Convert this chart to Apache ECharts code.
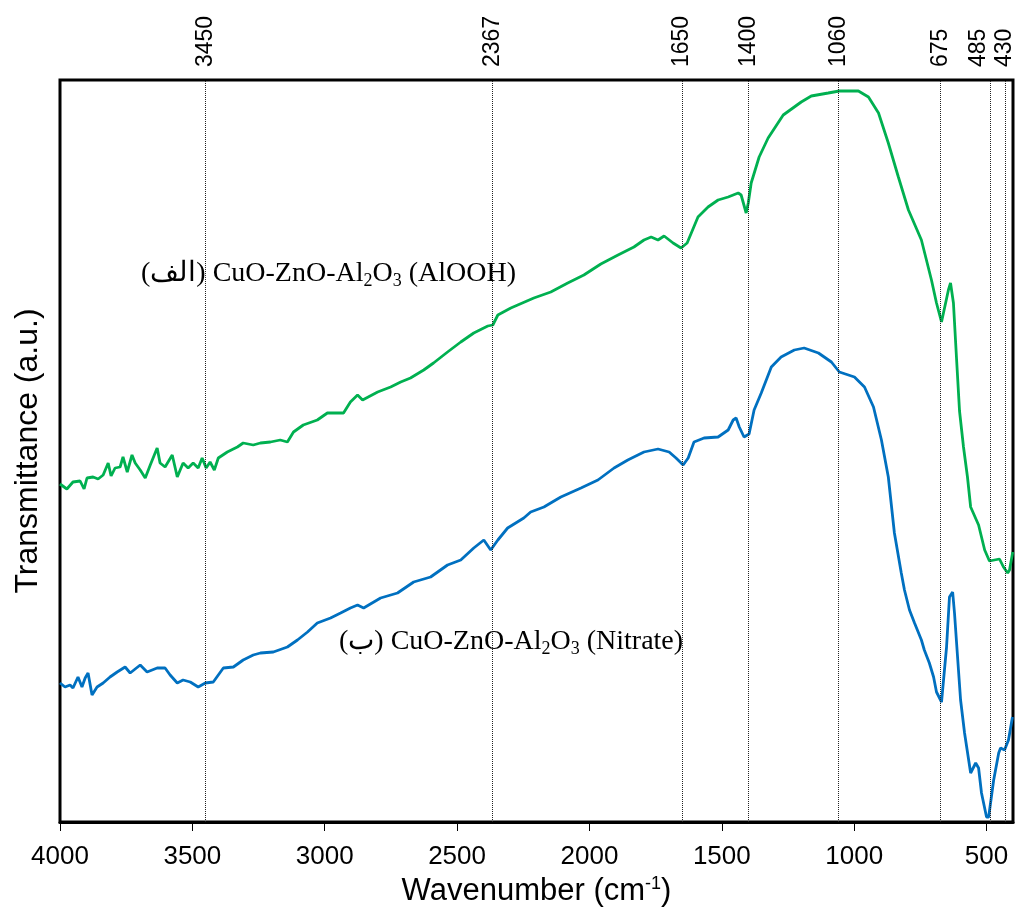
<!DOCTYPE html>
<html>
<head>
<meta charset="utf-8">
<script src="https://cdn.jsdelivr.net/npm/echarts@6/dist/echarts.min.js"></script>
<style>
html, body { margin: 0; padding: 0; background: #fff; }
#ftir { width: 1016px; height: 909px; }
</style>
</head>
<body>
<div id="ftir"></div>
<script>
// FTIR spectra (wavenumber cm-1, transmittance a.u.)

var alooh_wn = [4000,3974,3951,3924,3909,3898,3875,3856,3837,3818,3807,3792,3773,3762,3746,3728,3716,3697,3678,3659,
    3633,3622,3603,3576,3557,3535,3516,3497,3478,3463,3448,3433,3417,3402,3368,3330,3308,3270,3243,3205,
    3168,3141,3118,3081,3028,2990,2929,2903,2876,2857,2800,2751,2713,2676,2626,2589,2536,2486,2437,2384,
    2365,2346,2297,2210,2146,2082,2021,1957,1892,1832,1794,1767,1741,1718,1684,1654,1631,1590,1552,1514,
    1476,1438,1427,1408,1400,1389,1359,1325,1268,1200,1162,1098,1056,984,946,908,871,833,795,746,
    708,689,670,644,636,625,613,602,587,572,560,530,507,489,451,436,420,413,401];
var alooh_t = [33.8,33.3,34.0,34.1,33.3,34.4,34.5,34.3,34.7,35.9,34.6,35.4,35.5,36.5,35.0,36.7,35.9,35.2,34.4,35.7,
    37.4,35.9,35.5,36.7,34.5,35.9,35.4,35.9,35.4,36.4,35.4,36.0,35.2,36.4,37.0,37.5,37.9,37.7,37.9,38.0,
    38.2,38.0,39.0,39.7,40.2,40.9,40.9,42.0,42.7,42.2,43.0,43.5,44.0,44.4,45.2,45.9,47.0,48.0,48.9,49.6,
    49.7,50.7,51.4,52.4,53.0,53.9,54.7,55.8,56.7,57.5,58.2,58.5,58.2,58.6,57.9,57.4,57.9,60.5,61.5,62.2,
    62.5,62.9,62.7,60.9,61.9,63.9,66.5,68.4,70.7,72.0,72.6,72.9,73.1,73.1,72.5,70.9,67.9,64.5,61.2,58.2,
    54.2,51.9,50.0,53.2,53.9,51.9,46.2,41.1,37.5,34.5,31.5,29.7,27.2,26.1,26.3,25.5,24.9,25.2,27.0];

var nitrate_wn = [4000,3981,3962,3951,3932,3917,3905,3894,3879,3860,3837,3811,3784,3754,3735,3697,3671,3633,3603,3584,
    3557,3535,3508,3478,3451,3421,3383,3345,3308,3270,3243,3194,3141,3103,3065,3028,2978,2940,2903,2876,
    2853,2789,2725,2664,2600,2536,2486,2437,2399,2373,2346,2309,2248,2222,2172,2108,2032,1968,1907,1855,
    1817,1794,1741,1699,1673,1646,1627,1605,1567,1514,1476,1457,1446,1434,1416,1397,1378,1351,1313,1276,
    1226,1189,1135,1086,1056,999,961,927,897,871,848,822,810,791,772,746,735,716,700,689,
    670,651,640,628,621,606,598,583,560,541,530,519,500,492,473,454,447,432,417,402];
var nitrate_t = [13.9,13.5,13.7,13.4,14.5,13.5,14.4,14.9,12.7,13.5,13.9,14.5,15.0,15.5,14.9,15.7,15.0,15.4,15.4,14.7,
    13.9,14.2,14.0,13.5,13.9,14.0,15.4,15.5,16.2,16.7,16.9,17.0,17.5,18.2,19.0,19.9,20.4,20.9,21.4,21.7,
    21.4,22.4,22.9,24.0,24.5,25.7,26.2,27.4,28.2,27.2,28.2,29.4,30.4,31.0,31.5,32.5,33.4,34.2,35.4,36.2,
    36.7,37.0,37.3,37.0,36.4,35.7,36.4,38.0,38.4,38.5,39.2,40.2,40.4,39.5,38.5,38.8,41.2,42.9,45.5,46.5,
    47.2,47.4,46.9,46.0,45.0,44.5,43.5,41.5,38.2,34.5,28.9,24.9,23.2,21.2,19.9,18.2,17.2,15.9,14.5,13.0,
    12.0,17.5,22.5,23.0,20.9,15.2,12.2,8.9,4.9,5.9,5.4,2.9,0.5,0.5,4.2,6.9,7.4,7.2,8.2,10.5];

var peak_lines = [3450, 2367, 1650, 1400, 1060, 675, 485, 430];
var x_ticks = [4000, 3500, 3000, 2500, 2000, 1500, 1000, 500];

function pairs(xs, ys) {
    var out = [];
    for (var i = 0; i < xs.length; i++) out.push([xs[i], ys[i]]);
    return out;
}
function plain(v) { return String(v); }

var myChart = echarts.init(document.getElementById('ftir'));

var sansFont = '"Liberation Sans", Arial, sans-serif';
var serifFont = '"Liberation Serif", "Times New Roman", serif';
var subStyle = { fontSize: 18, fontFamily: serifFont, lineHeight: 14, verticalAlign: 'bottom', fill: '#000' };

// top axis for the peak labels; 485 and 430 sit too close, so they get their own axes
function peakAxis(values, vAlign) {
    return {
        type: 'value', position: 'top',
        min: 400, max: 4000, inverse: true,
        axisLine: { show: false },
        axisTick: { show: false },
        axisLabel: {
            customValues: values, formatter: plain, rotate: -90, margin: 13,
            hideOverlap: false, verticalAlign: vAlign || 'middle',
            fontFamily: sansFont, fontSize: 23, color: '#000'
        },
        splitLine: { show: false }
    };
}

var option = {
    animation: false,
    backgroundColor: '#fff',
    grid: {
        left: 60, right: 3, top: 80, bottom: 87,
        outerBoundsMode: 'none',
        show: true, borderColor: '#000', borderWidth: 3
    },
    xAxis: [
        {
            type: 'value', position: 'bottom',
            min: 400, max: 4000, inverse: true,
            name: 'Wavenumber (cm{sup|-1})',
            nameLocation: 'middle', nameGap: 44,
            nameTextStyle: {
                fontFamily: sansFont, fontSize: 31, color: '#000',
                rich: { sup: { fontFamily: sansFont, fontSize: 18, verticalAlign: 'top', lineHeight: 34, color: '#000' } }
            },
            axisLine: { show: true, lineStyle: { color: '#000', width: 3 } },
            axisTick: { show: true, customValues: x_ticks, length: 9, lineStyle: { color: '#000', width: 1 } },
            axisLabel: { customValues: x_ticks, formatter: plain, margin: 22, fontFamily: sansFont, fontSize: 26, color: '#000' },
            splitLine: { show: false }
        },
        peakAxis([3450, 2367, 1650, 1400, 1060, 675]),
        peakAxis([485], 'bottom'),
        peakAxis([430])
    ],
    yAxis: {
        type: 'value', min: 0, max: 74.2,
        name: 'Transmittance (a.u.)',
        nameLocation: 'middle', nameGap: 16,
        nameTextStyle: { fontFamily: sansFont, fontSize: 32, color: '#000' },
        axisLine: { show: false },
        axisTick: { show: false },
        axisLabel: { show: false },
        splitLine: { show: false }
    },
    graphic: [
        {
            type: 'text', left: 141, top: 258, z: 100,
            style: {
                text: '(الف) CuO-ZnO-Al{sub|2}O{sub|3} (AlOOH)',
                font: '28px ' + serifFont, fill: '#000', lineHeight: 32,
                rich: { sub: subStyle }
            }
        },
        {
            type: 'text', left: 339, top: 626, z: 100,
            style: {
                text: '(ب) CuO-ZnO-Al{sub|2}O{sub|3} (Nitrate)',
                font: '28px ' + serifFont, fill: '#000', lineHeight: 32,
                rich: { sub: subStyle }
            }
        }
    ],
    series: [
        {
            name: 'AlOOH', type: 'line', xAxisIndex: 0,
            data: pairs(alooh_wn, alooh_t),
            showSymbol: false, symbol: 'none',
            lineStyle: { color: '#00b050', width: 2.8 },
            z: 3,
            markLine: {
                silent: true, symbol: 'none',
                label: { show: false },
                lineStyle: { color: '#222', type: 'dotted', width: 1 },
                data: peak_lines.map(function (v) { return { xAxis: v }; })
            }
        },
        {
            name: 'Nitrate', type: 'line', xAxisIndex: 0,
            data: pairs(nitrate_wn, nitrate_t),
            showSymbol: false, symbol: 'none',
            lineStyle: { color: '#0070c0', width: 2.8 },
            z: 3
        }
    ]
};

myChart.setOption(option);
</script>
</body>
</html>
